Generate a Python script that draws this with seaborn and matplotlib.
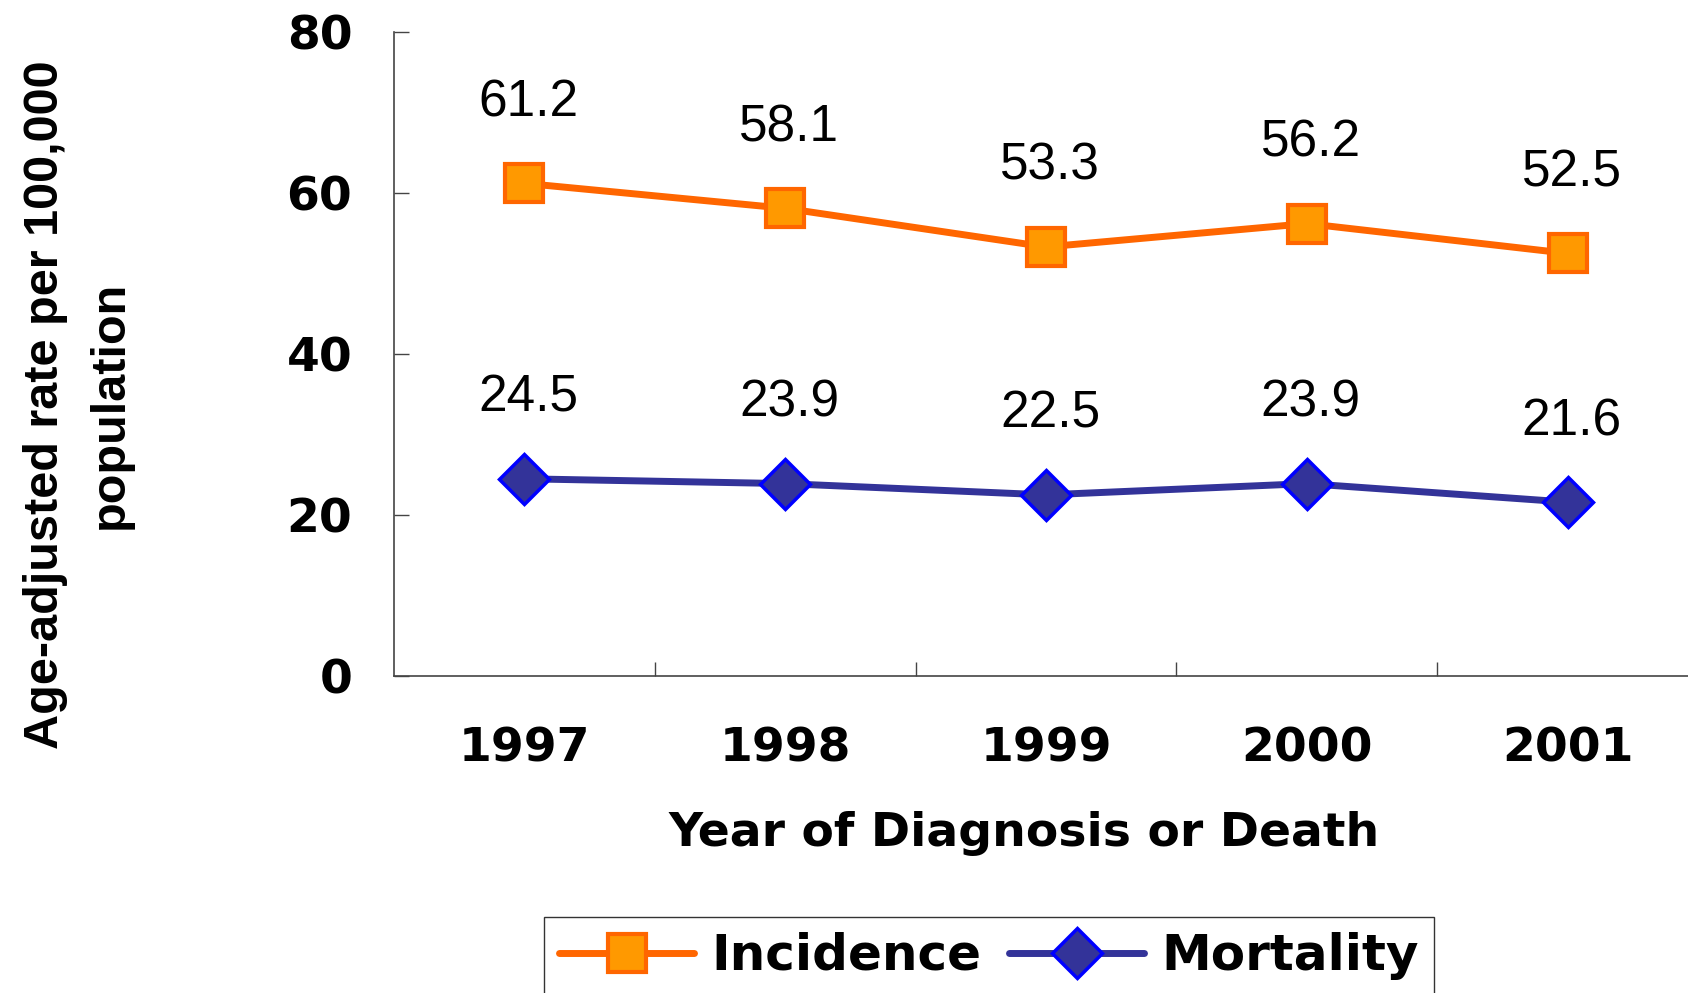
import numpy as np
import pandas as pd
import seaborn as sns
import matplotlib.pyplot as plt

# data
years = ['1997', '1998', '1999', '2000', '2001']
incidence = [61.2, 58.1, 53.3, 56.2, 52.5]
mortality = [24.5, 23.9, 22.5, 23.9, 21.6]
y_ticks = [0, 20, 40, 60, 80]

sns.set_style('white')
plt.rcParams['font.family'] = ['DejaVu Sans']
plt.rcParams['text.color'] = 'black'
plt.rcParams['axes.labelcolor'] = 'black'
plt.rcParams['xtick.color'] = 'black'
plt.rcParams['ytick.color'] = 'black'

fig = plt.figure(figsize=(16.88, 9.93), dpi=100)
ax = fig.add_axes([394 / 1688, 1 - 676 / 993, 1304 / 1688, 644 / 993])

df_inc = pd.DataFrame({'year': years, 'rate': incidence})
df_mor = pd.DataFrame({'year': years, 'rate': mortality})

sns.lineplot(data=df_inc, x='year', y='rate', ax=ax, color='#FF6600', linewidth=5,
             marker='s', markersize=28, markerfacecolor='#FF9900',
             markeredgecolor='#FF6600', markeredgewidth=3, label='Incidence')
sns.lineplot(data=df_mor, x='year', y='rate', ax=ax, color='#333399', linewidth=5,
             marker='D', markersize=25, markerfacecolor='#333399',
             markeredgecolor='#0000FF', markeredgewidth=2.5, label='Mortality')

# value labels above each point
for vals in (incidence, mortality):
    for i, v in enumerate(vals):
        ax.annotate(f'{v:.1f}', (i, v), textcoords='offset pixels', xytext=(4, 67),
                    ha='center', va='baseline', fontsize=37, family='Liberation Sans',
                    color='black')

ax.set_xlim(-0.5, 4.5)
ax.set_ylim(0, 80)
ax.set_yticks(y_ticks)
ax.set_yticklabels([str(t) for t in y_ticks], fontsize=34, fontweight='bold')
ax.set_xticks(range(len(years)))
ax.set_xticklabels(years, fontsize=34, fontweight='bold')
ax.set_xticks([0.5, 1.5, 2.5, 3.5], minor=True)

ax.tick_params(axis='y', direction='in', length=11, width=1, color='#444444', pad=30, left=True)
ax.tick_params(axis='x', which='major', length=0, pad=36)
ax.tick_params(axis='x', which='minor', direction='in', length=10, width=1,
               color='#444444', bottom=True)

for s in ['top', 'right']:
    ax.spines[s].set_visible(False)
for s in ['left', 'bottom']:
    ax.spines[s].set_color('#444444')
    ax.spines[s].set_linewidth(1.2)

ax.set_xlabel('Year of Diagnosis or Death', fontsize=34, fontweight='bold')
ax.xaxis.set_label_coords(0.483, -0.21)
ax.set_ylabel('')

fig.text(78 / 1688, 1 - 405 / 993, 'Age-adjusted rate per 100,000\npopulation',
         rotation=90, ha='center', va='center', multialignment='center',
         fontsize=35, fontweight='bold', family='Liberation Sans', linespacing=1.55)

leg = ax.legend(loc='upper left', bbox_to_anchor=(544 / 1688, 1 - 917 / 993),
                bbox_transform=fig.transFigure, borderaxespad=0, ncol=2,
                fancybox=False, frameon=True, edgecolor='black', handlelength=2.7,
                columnspacing=0.55, handletextpad=0.35, borderpad=0.3,
                prop={'size': 36, 'weight': 'bold'})
leg.get_frame().set_linewidth(1.0)

fig.savefig('out.png', dpi=100)
